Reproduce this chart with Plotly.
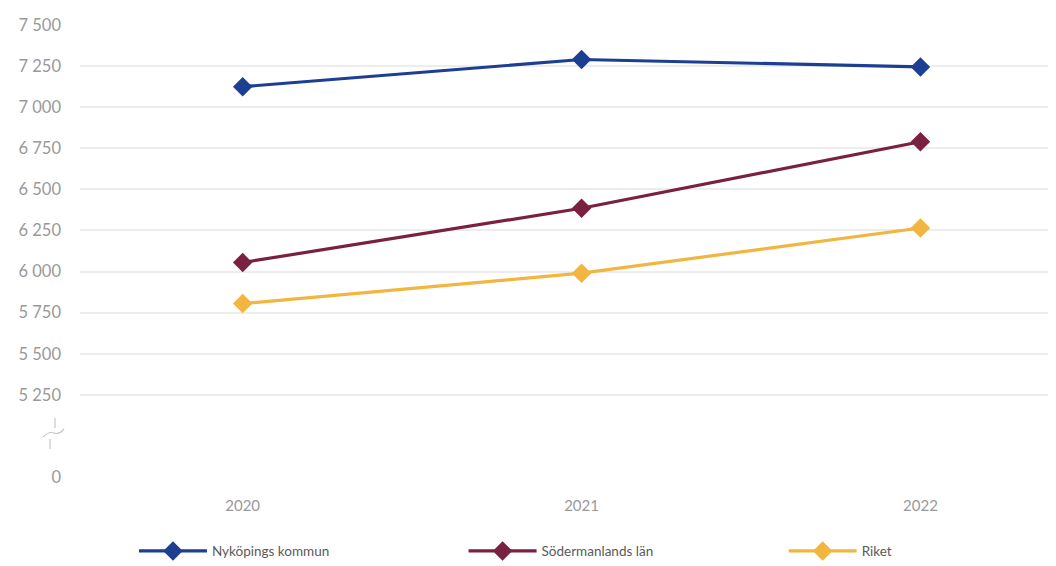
import plotly.graph_objects as go

years = [2020, 2021, 2022]
series_names = ["Nyköpings kommun", "Södermanlands län", "Riket"]
nykoping = [7125, 7290, 7245]
sodermanland = [6055, 6385, 6790]
riket = [5805, 5990, 6265]
colors = ["#1d3f93", "#7a2141", "#f2b53f"]

# y-axis with a break: the "0" tick is drawn at the position of 4750
tick_vals = [4750, 5250, 5500, 5750, 6000, 6250, 6500, 6750, 7000, 7250, 7500]
tick_text = ["0", "5 250", "5 500", "5 750", "6 000", "6 250", "6 500",
             "6 750", "7 000", "7 250", "7 500"]

legend_names = ["legend", "legend2", "legend3"]
legend_x = [0.0553, 0.393, 0.721]

fig = go.Figure()
for name, vals, col, lg in zip(series_names, [nykoping, sodermanland, riket], colors, legend_names):
    fig.add_trace(go.Scatter(
        x=years, y=vals, name=name, mode="lines+markers",
        line=dict(color=col, width=3.2),
        marker=dict(symbol="diamond", size=15, color=col),
        legend=lg,
    ))

legend_common = dict(
    orientation="h", xanchor="left", y=-0.164, yanchor="middle",
    itemwidth=68, font=dict(size=13.5, color="#5a5a5a"),
    bgcolor="rgba(0,0,0,0)",
)

fig.update_layout(
    width=1056, height=566,
    margin=dict(l=72, r=8, t=17, b=97, autoexpand=False),
    paper_bgcolor="white", plot_bgcolor="white",
    font=dict(family="Lato, Open Sans, sans-serif", size=15, color="#999999"),
    showlegend=True,
    legend=dict(x=legend_x[0], **legend_common),
    legend2=dict(x=legend_x[1], **legend_common),
    legend3=dict(x=legend_x[2], **legend_common),
    xaxis=dict(
        range=[2019.52, 2022.40], tickvals=years, ticktext=[str(y) for y in years],
        showgrid=False, zeroline=False, showline=False, ticks="",
        tickfont=dict(size=15, color="#999999"), ticklabelstandoff=18,
    ),
    yaxis=dict(
        range=[4750, 7500], tickvals=tick_vals, ticktext=tick_text,
        showgrid=True, gridcolor="#ededed", gridwidth=1.5,
        zeroline=False, showline=False, ticks="",
        tickfont=dict(size=16.5, color="#999999"), ticklabelstandoff=18,
    ),
)

# axis break marker
fig.add_shape(
    type="path", xref="paper", yref="paper",
    xsizemode="pixel", ysizemode="pixel",
    xanchor=(52 - 80) / 976, yanchor=(477 - 434) / 452,
    path="M 3,16 L 3,6 M -9,-3 Q -3,3 2,1 Q 7,-1 12,5 M -2,-5 L -2,-15",
    line=dict(color="#c8c8c8", width=1.2),
)

fig.write_html("out.html")
